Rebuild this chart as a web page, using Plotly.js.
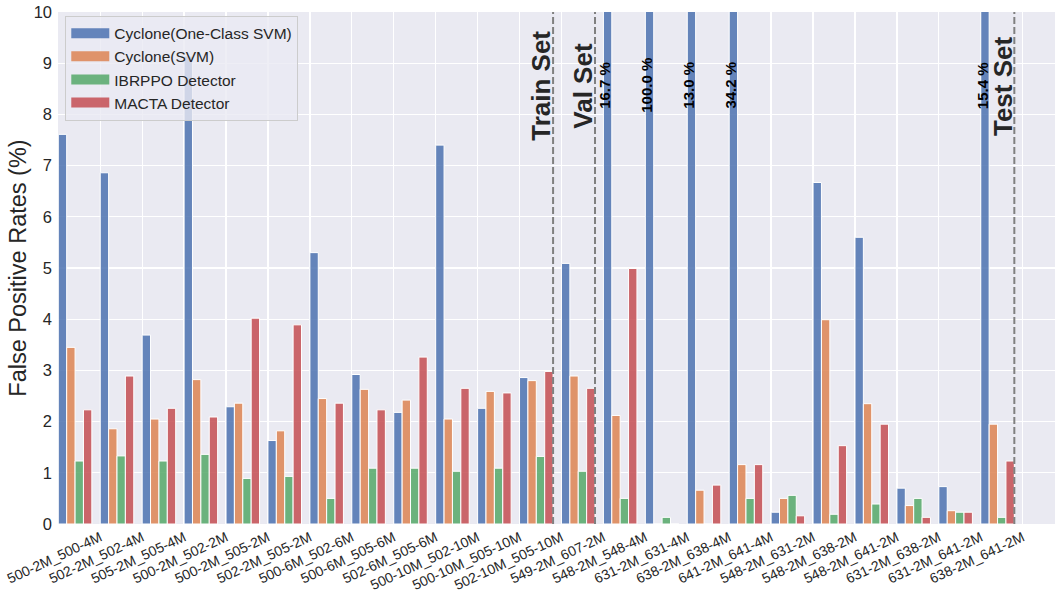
<!DOCTYPE html>
<html>
<head>
<meta charset="utf-8">
<script src="https://cdn.plot.ly/plotly-3.0.1.min.js"></script>
<style>html,body{margin:0;padding:0;background:#fff;}#chart{width:1055px;height:596px;}</style>
</head>
<body>
<div id="chart"></div>
<script>
const categories = ["500-2M_500-4M","502-2M_502-4M","505-2M_505-4M","500-2M_502-2M","500-2M_505-2M","502-2M_505-2M","500-6M_502-6M","500-6M_505-6M","502-6M_505-6M","500-10M_502-10M","500-10M_505-10M","502-10M_505-10M","549-2M_607-2M","548-2M_548-4M","631-2M_631-4M","638-2M_638-4M","641-2M_641-4M","548-2M_631-2M","548-2M_638-2M","548-2M_641-2M","631-2M_638-2M","631-2M_641-2M","638-2M_641-2M"];
const seriesNames = ["Cyclone(One-Class SVM)","Cyclone(SVM)","IBRPPO Detector","MACTA Detector"];
const cycloneOCSVM = [7.61,6.86,3.69,9.14,2.29,1.63,5.30,2.92,2.18,7.40,2.26,2.86,5.09,16.7,100.0,13.0,34.2,0.23,6.67,5.60,0.70,0.73,15.4];
const cycloneSVM   = [3.45,1.86,2.05,2.82,2.36,1.82,2.45,2.63,2.42,2.05,2.59,2.80,2.89,2.12,0,0.66,1.16,0.50,3.99,2.35,0.36,0.26,1.95];
const ibrppo       = [1.23,1.33,1.23,1.36,0.89,0.93,0.50,1.09,1.09,1.03,1.09,1.32,1.03,0.50,0.13,0,0.50,0.56,0.19,0.39,0.50,0.23,0.13];
const macta        = [2.23,2.89,2.26,2.09,4.02,3.89,2.36,2.23,3.26,2.65,2.56,2.98,2.65,4.99,0,0.76,1.16,0.16,1.53,1.95,0.13,0.23,1.23];
const splitAfterIndex = [11, 12, 22];
const splitLabels = ["Train Set","Val Set","Test Set"];

const colors = ["rgba(76,114,176,0.85)","rgba(221,132,82,0.85)","rgba(85,168,104,0.85)","rgba(196,78,82,0.85)"];
const barW = 0.2;
const yMax = 10;
const idx = categories.map((_, i) => i);
const allSeries = [cycloneOCSVM, cycloneSVM, ibrppo, macta];
const FONT = "Liberation Sans, Arial, sans-serif";
const TXT = "#262626";

const traces = [];
allSeries.forEach((vals, k) => {
  traces.push({
    type: "bar", x: idx, y: vals, width: barW, offset: k * barW,
    marker: {color: colors[k], line: {color: "#ffffff", width: 1}},
    name: seriesNames[k], showlegend: false, hoverinfo: "skip"
  });
});
// legend entries drawn as wide patches
allSeries.forEach((vals, k) => {
  traces.push({
    type: "scatter", mode: "lines", x: [null], y: [null],
    line: {color: colors[k], width: 10}, name: seriesNames[k], showlegend: true
  });
});

const annotations = [];
cycloneOCSVM.forEach((v, i) => {
  if (v > yMax) {
    annotations.push({
      x: i + barW / 2, y: 8.57, xref: "x", yref: "y",
      text: v.toFixed(1) + " %", showarrow: false, textangle: -90,
      xanchor: "center", yanchor: "middle", xshift: -3,
      font: {family: FONT, size: 15, color: "#000000", weight: "bold"}
    });
  }
});
const shapes = [];
splitAfterIndex.forEach((gi, j) => {
  const xl = gi + 4 * barW;
  shapes.push({type: "line", xref: "x", yref: "y", x0: xl, x1: xl, y0: 0, y1: yMax,
    line: {color: "#808080", width: 2, dash: "7px,3px"}, layer: "above"});
  annotations.push({
    x: xl, y: 8.56, xref: "x", yref: "y", text: splitLabels[j], showarrow: false,
    textangle: -90, xanchor: "center", yanchor: "middle", xshift: -12,
    font: {family: FONT, size: 26, color: TXT, weight: "bold"}
  });
});

const layout = {
  width: 1055, height: 596,
  margin: {l: 58, r: 0, t: 12, b: 72, pad: 0},
  paper_bgcolor: "#ffffff", plot_bgcolor: "#EAEAF2",
  barmode: "overlay", bargap: 0,
  font: {family: FONT, color: TXT},
  xaxis: {
    type: "linear", range: [-0.007, 23.77],
    tickvals: idx.map(i => i + 1), ticktext: categories,
    tickangle: -25, tickfont: {size: 14, color: TXT},
    showgrid: true, gridcolor: "#ffffff", gridwidth: 1.3,
    zeroline: false, showline: false, ticks: "", ticklabelstandoff: 2
  },
  yaxis: {
    range: [0, yMax], dtick: 1, tickfont: {size: 16.5, color: TXT},
    showgrid: true, gridcolor: "#ffffff", gridwidth: 1.3,
    zeroline: false, showline: false, ticks: "", ticklabelstandoff: 5,
    title: {text: "False Positive Rates (%)", font: {size: 23.5, color: TXT}, standoff: 0}
  },
  legend: {
    x: 0.0073, y: 0.993, xanchor: "left", yanchor: "top",
    bgcolor: "rgba(234,234,242,0.8)", bordercolor: "#cccccc", borderwidth: 1,
    font: {size: 15.5, color: TXT}, itemwidth: 38, tracegroupgap: 0
  },
  annotations: annotations, shapes: shapes,
  showlegend: true
};
Plotly.newPlot("chart", traces, layout, {staticPlot: true, displayModeBar: false});
</script>
</body>
</html>
